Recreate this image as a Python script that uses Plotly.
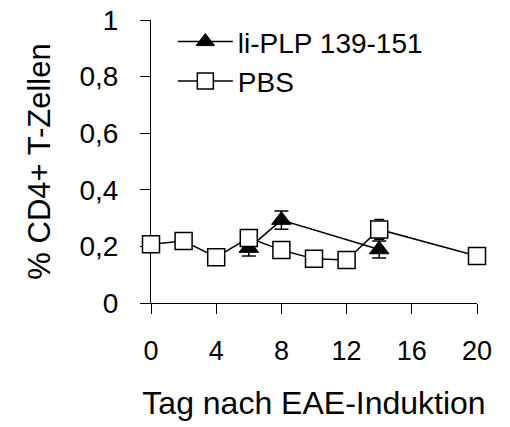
import plotly.graph_objects as go

# Data
days_plp = [6, 8, 14]
vals_plp = [0.194, 0.293, 0.189]
err_plp = [0.028, 0.032, 0.03]

days_pbs = [0, 2, 4, 6, 8, 10, 12, 14, 20]
vals_pbs = [0.208, 0.219, 0.162, 0.23, 0.187, 0.156, 0.152, 0.26, 0.166]
err_pbs = [0.02, 0.02, 0.02, 0.02, 0.02, 0.02, 0.02, 0.035, 0.02]

x_ticks = [0, 4, 8, 12, 16, 20]
y_ticks = [0, 0.2, 0.4, 0.6, 0.8, 1]
y_ticktext = ["0", "0,2", "0,4", "0,6", "0,8", "1"]

FONT = "Liberation Sans, Arial, sans-serif"

fig = go.Figure()
fig.add_trace(go.Scatter(
    x=days_plp, y=vals_plp, name="li-PLP 139-151", mode="lines+markers",
    line=dict(color="black", width=1.5),
    marker=dict(symbol="triangle-up", size=17, color="black",
                line=dict(color="black", width=1)),
    error_y=dict(type="data", array=err_plp, color="black", thickness=1.5, width=7),
    cliponaxis=False,
))
fig.add_trace(go.Scatter(
    x=days_pbs, y=vals_pbs, name="PBS", mode="lines+markers",
    line=dict(color="black", width=1.5),
    marker=dict(symbol="square", size=17, color="white",
                line=dict(color="black", width=1.5)),
    error_y=dict(type="data", array=err_pbs, color="black", thickness=1.5, width=5),
    cliponaxis=False,
))

fig.update_layout(
    width=510, height=427,
    margin=dict(l=151, r=33, t=20, b=124, autoexpand=False),
    paper_bgcolor="white", plot_bgcolor="white",
    font=dict(family=FONT, color="black", size=26),
    showlegend=True,
    legend=dict(
        x=0.067, y=1.011, xanchor="left", yanchor="top",
        bgcolor="rgba(0,0,0,0)", font=dict(size=28),
        itemwidth=55, tracegroupgap=0,
    ),
    xaxis=dict(
        range=[0, 20], tickvals=x_ticks, ticks="outside", ticklen=10,
        tickcolor="black", tickwidth=1, showline=True, linecolor="black",
        linewidth=1, showgrid=False, zeroline=False, layer="below traces",
        tickfont=dict(size=27), ticklabelstandoff=14, automargin=False,
        ticklabeloverflow="allow",
        title=dict(text="Tag nach EAE-Induktion", font=dict(size=32), standoff=26),
    ),
    yaxis=dict(
        range=[0, 1], tickvals=y_ticks, ticktext=y_ticktext, ticks="outside",
        ticklen=10, tickcolor="black", tickwidth=1, showline=True,
        linecolor="black", linewidth=1, showgrid=False, zeroline=False,
        layer="below traces", tickfont=dict(size=28), ticklabelstandoff=16,
        automargin=False, ticklabeloverflow="allow",
        title=dict(text="% CD4+ T-Zellen", font=dict(size=31), standoff=19),
    ),
)

# remove the page's default 8px body margin so the figure fills the window
fig.write_html("out.html", config={"displayModeBar": False},
               post_script="document.body.style.margin='0';")
